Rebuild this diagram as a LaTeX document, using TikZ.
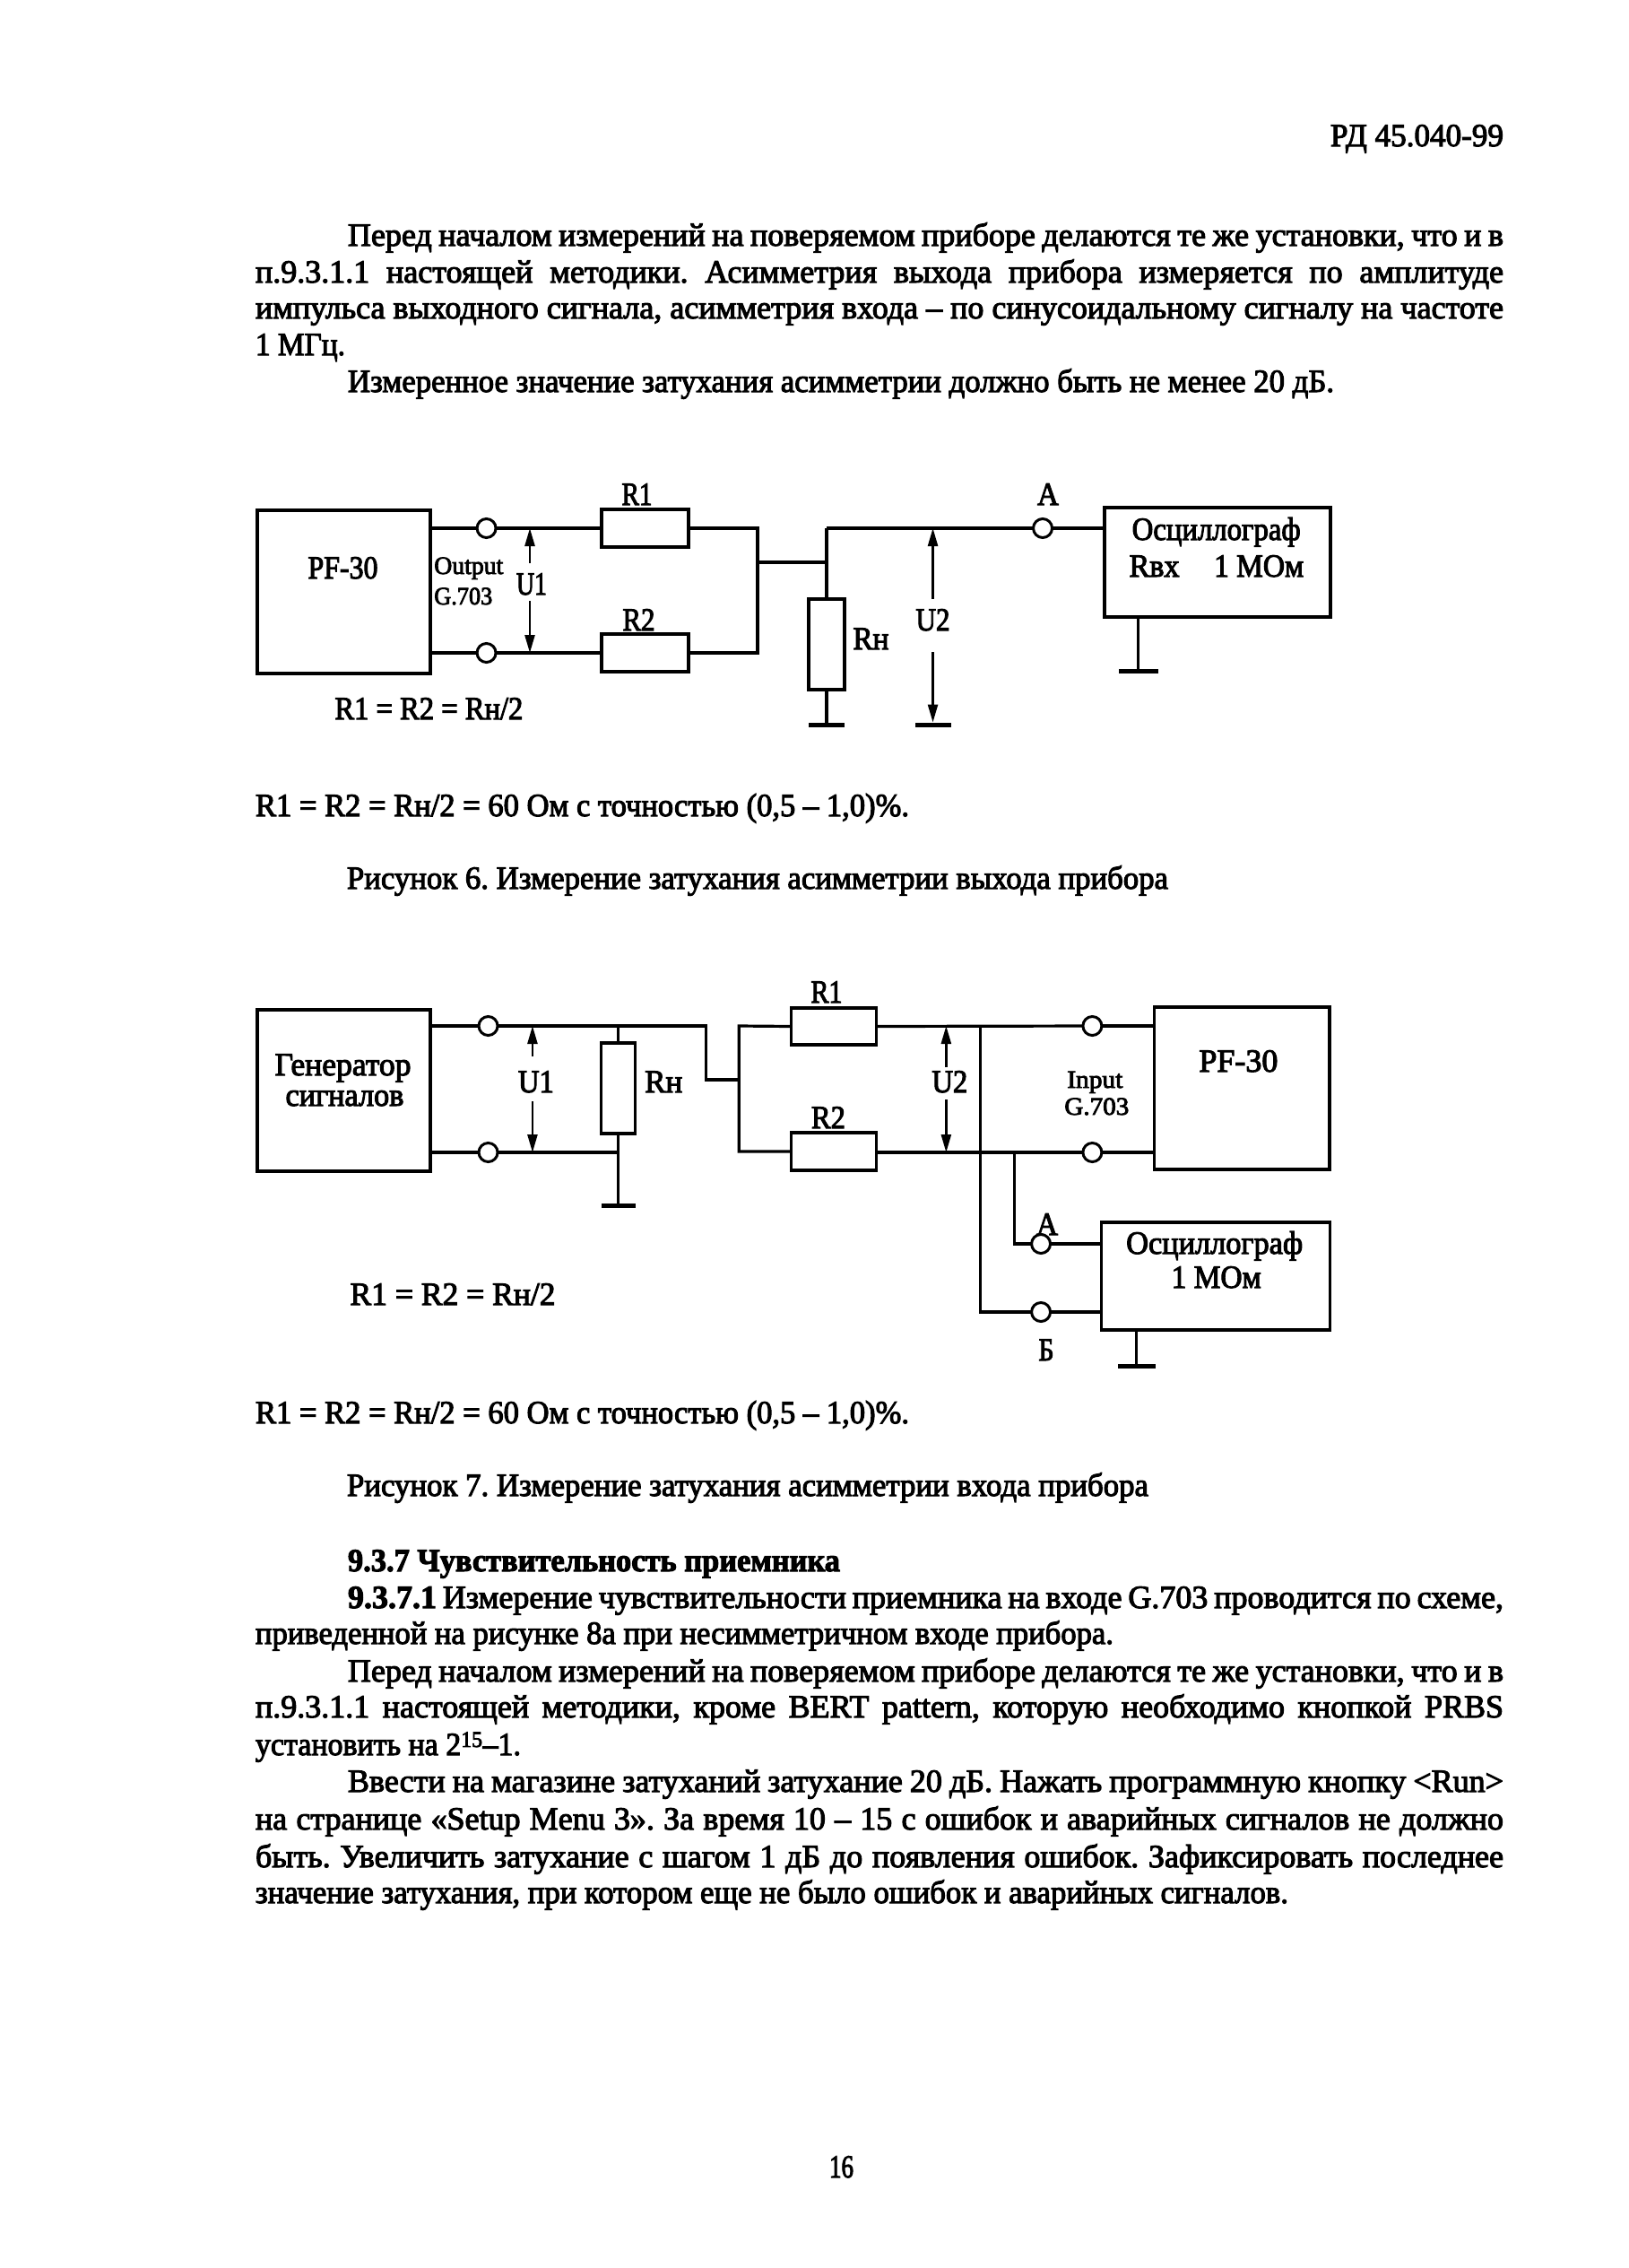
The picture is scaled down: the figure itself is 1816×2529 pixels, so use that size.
\documentclass[tikz,border=0pt]{standalone}
\usepackage{fontspec}
\usepackage{graphicx}
\usetikzlibrary{arrows.meta}
\setmainfont{Liberation Serif}[FakeBold=3]
\newcommand{\bodysize}{\fontsize{36}{41}\selectfont\frenchspacing}
\newcommand{\jline}[5]{\node[txtline] (#1) at (#2,#3) {\makebox[#4pt][s]{#5}};}
\newcommand{\fline}[5]{\node[txtline] (#1) at (#2,#3) {\resizebox{#4pt}{\height}{#5}};}
\newcommand{\lab}[5]{\node[labline] (#1) at (#2,#3) {\resizebox{#4pt}{\height}{#5}};}
\tikzset{
  txtline/.style={anchor=base west,inner sep=0pt,outer sep=0pt,font=\bodysize},
  labline/.style={anchor=base,inner sep=0pt,outer sep=0pt,font=\fontsize{36}{38}\selectfont},
  blk/.style={draw,line width=3.4pt,fill=white,inner sep=0pt,outer sep=0pt},
  term/.style={circle,draw,line width=3pt,fill=white,minimum size=21pt,inner sep=0pt,outer sep=0pt},
  gbar/.style={fill=black,inner sep=0pt,outer sep=0pt,minimum height=5pt},
  wire/.style={line width=3.2pt,line join=miter},
  meas/.style={line width=2.4pt,-{Triangle[length=20pt,width=11pt]}},
}
\begin{document}
\begin{tikzpicture}[x=1pt,y=-1pt]
\fill[white] (0,0) rectangle (1816,2529);
\useasboundingbox (0,0) rectangle (1816,2529);

% --- page text, top
\fline{hdr}{1484}{163}{193}{РД 45.040-99}
\jline{p1a}{388}{274}{1289}{Перед началом измерений на поверяемом приборе делаются те же установки, что и в}
\jline{p1b}{285}{315}{1392}{п.9.3.1.1 настоящей методики. Асимметрия выхода прибора измеряется по амплитуде}
\jline{p1c}{285}{355}{1392}{импульса выходного сигнала, асимметрия входа – по синусоидальному сигналу на частоте}
\fline{p1d}{285}{396}{100}{1 МГц.}
\fline{p1e}{388}{437}{1100}{Измеренное значение затухания асимметрии должно быть не менее 20 дБ.}

\begin{scope}[x=0.988pt,xshift=3.12pt]
% --- figure 6
\node[blk,minimum width=193pt,minimum height=182pt] (pfa) at (385,660) {};
\node[blk,minimum width=97pt,minimum height=42pt] (roa) at (725,589) {};
\node[blk,minimum width=97pt,minimum height=42pt] (rta) at (725,728) {};
\node[blk,minimum width=40pt,minimum height=101pt] (rna) at (930,718.5) {};
\node[blk,minimum width=252pt,minimum height=122pt] (osa) at (1371.5,627) {};
\node[term] (tat) at (546,589) {};
\node[term] (tab) at (546,728) {};
\node[term] (taa) at (1174,589) {};
\node[gbar,minimum width=40pt] (gna) at (930,808) {};
\node[gbar,minimum width=44pt] (goa) at (1282,748) {};
\node[gbar,minimum width=40pt] (gua) at (1050,808) {};
\coordinate (ja1) at (852,589);
\coordinate (ja2) at (852,728);
\coordinate (jam) at (852,627);
\coordinate (jan) at (930,627);
\coordinate (jat) at (930,589);
\coordinate (ua1t) at (595,589);
\coordinate (ua1u) at (595,628);
\coordinate (ua1l) at (595,670);
\coordinate (ua1b) at (595,728);
\coordinate (ua2t) at (1050,589);
\coordinate (ua2u) at (1050,668);
\coordinate (ua2l) at (1050,727);
\draw[wire] (pfa.east |- tat) -- (tat);
\draw[wire] (tat) -- (roa.west);
\draw[wire] (pfa.east |- tab) -- (tab);
\draw[wire] (tab) -- (rta.west);
\draw[wire] (roa.east) -- (ja1) -- (ja2) -- (rta.east);
\draw[wire] (jam) -- (jan);
\draw[wire] (jat) -- (rna.north);
\draw[wire] (rna.south) -- (gna.north);
\draw[wire] (jat) -- (taa);
\draw[wire] (taa) -- (osa.west |- taa);
\draw[wire] (goa.north |- osa.south) -- (goa.north);
\draw[meas] (ua1u) -- (ua1t);
\draw[meas] (ua1l) -- (ua1b);
\draw[meas] (ua2u) -- (ua2t);
\draw[meas] (ua2l) -- (gua.north);
\lab{la1}{716}{563}{34}{R1}
\lab{la2}{718}{703}{36}{R2}
\lab{laa}{1180}{563}{24}{А}
\lab{lap}{384}{645}{78}{PF-30}
\node[labline,anchor=base west] (lao) at (487,640) {\resizebox{77pt}{\height}{\fontsize{28}{30}\selectfont Output}};
\node[labline,anchor=base west] (lag) at (487,674) {\resizebox{65pt}{\height}{\fontsize{28}{30}\selectfont G.703}};
\lab{lau}{597}{663}{34}{U1}
\lab{lar}{980}{724}{40}{Rн}
\lab{lav}{1050}{703}{38}{U2}
\lab{las}{1370}{602}{188}{Осциллограф}
\lab{lax}{1300}{643}{56}{Rвх}
\lab{lam}{1418}{643}{100}{1 МОм}
\lab{lae}{481}{802}{210}{R1 = R2 = Rн/2}

% --- figure 7
\node[blk,minimum width=193pt,minimum height=180pt] (gen) at (385,1216) {};
\node[blk,minimum width=38pt,minimum height=101pt] (rnb) at (695,1213.5) {};
\node[blk,minimum width=95pt,minimum height=41pt] (rob) at (938,1144.5) {};
\node[blk,minimum width=95pt,minimum height=42pt] (rtb) at (938,1284) {};
\node[blk,minimum width=195.5pt,minimum height=181pt] (pfb) at (1398.7,1213.5) {};
\node[blk,minimum width=255pt,minimum height=120pt] (osb) at (1369,1423) {};
\node[term] (tbt) at (548,1144) {};
\node[term] (tbb) at (548,1285) {};
\node[term] (tct) at (1230,1144) {};
\node[term] (tcb) at (1230,1285) {};
\node[term] (tca) at (1172,1387) {};
\node[term] (tcs) at (1172,1463) {};
\node[gbar,minimum width=38pt] (gnb) at (695,1344) {};
\node[gbar,minimum width=42pt] (gob) at (1280,1523) {};
\coordinate (jb1) at (695,1144);
\coordinate (jb2) at (695,1285);
\coordinate (jb3) at (794,1144);
\coordinate (jb4) at (794,1204);
\coordinate (jb5) at (831,1204);
\coordinate (jb6) at (831,1144);
\coordinate (jb7) at (831,1284);
\coordinate (jb8) at (1104,1144);
\coordinate (jb9) at (1104,1463);
\coordinate (jb10) at (1142,1285);
\coordinate (jb11) at (1142,1387);
\coordinate (ub1t) at (598,1144);
\coordinate (ub1u) at (598,1178);
\coordinate (ub1l) at (598,1228);
\coordinate (ub1b) at (598,1285);
\coordinate (ub2t) at (1065,1144);
\coordinate (ub2u) at (1065,1190);
\coordinate (ub2l) at (1065,1226);
\coordinate (ub2b) at (1065,1285);
\draw[wire] (gen.east |- tbt) -- (tbt);
\draw[wire] (gen.east |- tbb) -- (tbb);
\draw[wire] (tbt) -- (jb3) -- (jb4) -- (jb5);
\draw[wire] (tbb) -- (jb2);
\draw[wire] (jb1) -- (rnb.north);
\draw[wire] (rnb.south) -- (gnb.north);
\draw[wire] (rob.west) -- (jb6) -- (jb7) -- (rtb.west);
\draw[wire] (rob.east) -- (tct);
\draw[wire] (tct) -- (pfb.west |- tct);
\draw[wire] (rtb.east |- tcb) -- (tcb);
\draw[wire] (tcb) -- (pfb.west |- tcb);
\draw[wire] (jb8) -- (jb9) -- (tcs);
\draw[wire] (tcs) -- (osb.west |- tcs);
\draw[wire] (jb10) -- (jb11) -- (tca);
\draw[wire] (tca) -- (osb.west |- tca);
\draw[wire] (gob.north |- osb.south) -- (gob.north);
\draw[meas] (ub1u) -- (ub1t);
\draw[meas] (ub1l) -- (ub1b);
\draw[meas] (ub2u) -- (ub2t);
\draw[meas] (ub2l) -- (ub2b);
\lab{lb1}{930}{1118}{35}{R1}
\lab{lb2}{932}{1258}{38}{R2}
\lab{lbu}{602}{1218}{40}{U1}
\lab{lbr}{746}{1218}{42}{Rн}
\lab{lbv}{1069}{1218}{40}{U2}
\lab{lbg}{384}{1199}{152}{Генератор}
\lab{lbc}{386}{1233}{132}{сигналов}
\lab{lbp}{1395}{1195}{88}{PF-30}
\node[labline] (lbi) at (1233,1213) {\resizebox{62pt}{\height}{\fontsize{28}{30}\selectfont Input}};
\node[labline] (lbj) at (1235,1243) {\resizebox{72pt}{\height}{\fontsize{28}{30}\selectfont G.703}};
\lab{lbs}{1368}{1398}{197}{Осциллограф}
\lab{lbm}{1370}{1436}{100}{1 МОм}
\lab{lba}{1179}{1377}{24}{А}
\lab{lbb}{1178}{1517}{17}{Б}
\lab{lbe}{508}{1455}{229}{R1 = R2 = Rн/2}
\end{scope}

\fline{c6a}{285}{910}{729}{R1 = R2 = Rн/2 = 60 Ом с точностью (0,5 – 1,0)\%.}
\fline{c6b}{387}{991}{916}{Рисунок 6. Измерение затухания асимметрии выхода прибора}
\fline{c7a}{285}{1587}{729}{R1 = R2 = Rн/2 = 60 Ом с точностью (0,5 – 1,0)\%.}
\fline{c7b}{387}{1668}{894}{Рисунок 7. Измерение затухания асимметрии входа прибора}

% --- page text, bottom
\fline{s0}{388}{1752}{549}{\textbf{9.3.7 Чувствительность приемника}}
\jline{s1}{388}{1793}{1289}{\textbf{9.3.7.1} Измерение чувствительности приемника на входе G.703 проводится по схеме,}
\fline{s2}{285}{1833}{957}{приведенной на рисунке 8а при несимметричном входе прибора.}
\jline{s3}{388}{1875}{1289}{Перед началом измерений на поверяемом приборе делаются те же установки, что и в}
\jline{s4}{285}{1915}{1392}{п.9.3.1.1 настоящей методики, кроме BERT pattern, которую необходимо кнопкой PRBS}
\fline{s5}{285}{1957}{296}{установить на 2\textsuperscript{15}–1.}
\jline{s6}{388}{1998}{1289}{Ввести на магазине затуханий затухание 20 дБ. Нажать программную кнопку <Run>}
\jline{s7}{285}{2040}{1392}{на странице «Setup Menu 3». За время 10 – 15 с ошибок и аварийных сигналов не должно}
\jline{s8}{285}{2082}{1392}{быть. Увеличить затухание с шагом 1 дБ до появления ошибок. Зафиксировать последнее}
\fline{s9}{285}{2122}{1152}{значение затухания, при котором еще не было ошибок и аварийных сигналов.}
\fline{pgn}{925}{2428}{27}{16}
\end{tikzpicture}
\end{document}
